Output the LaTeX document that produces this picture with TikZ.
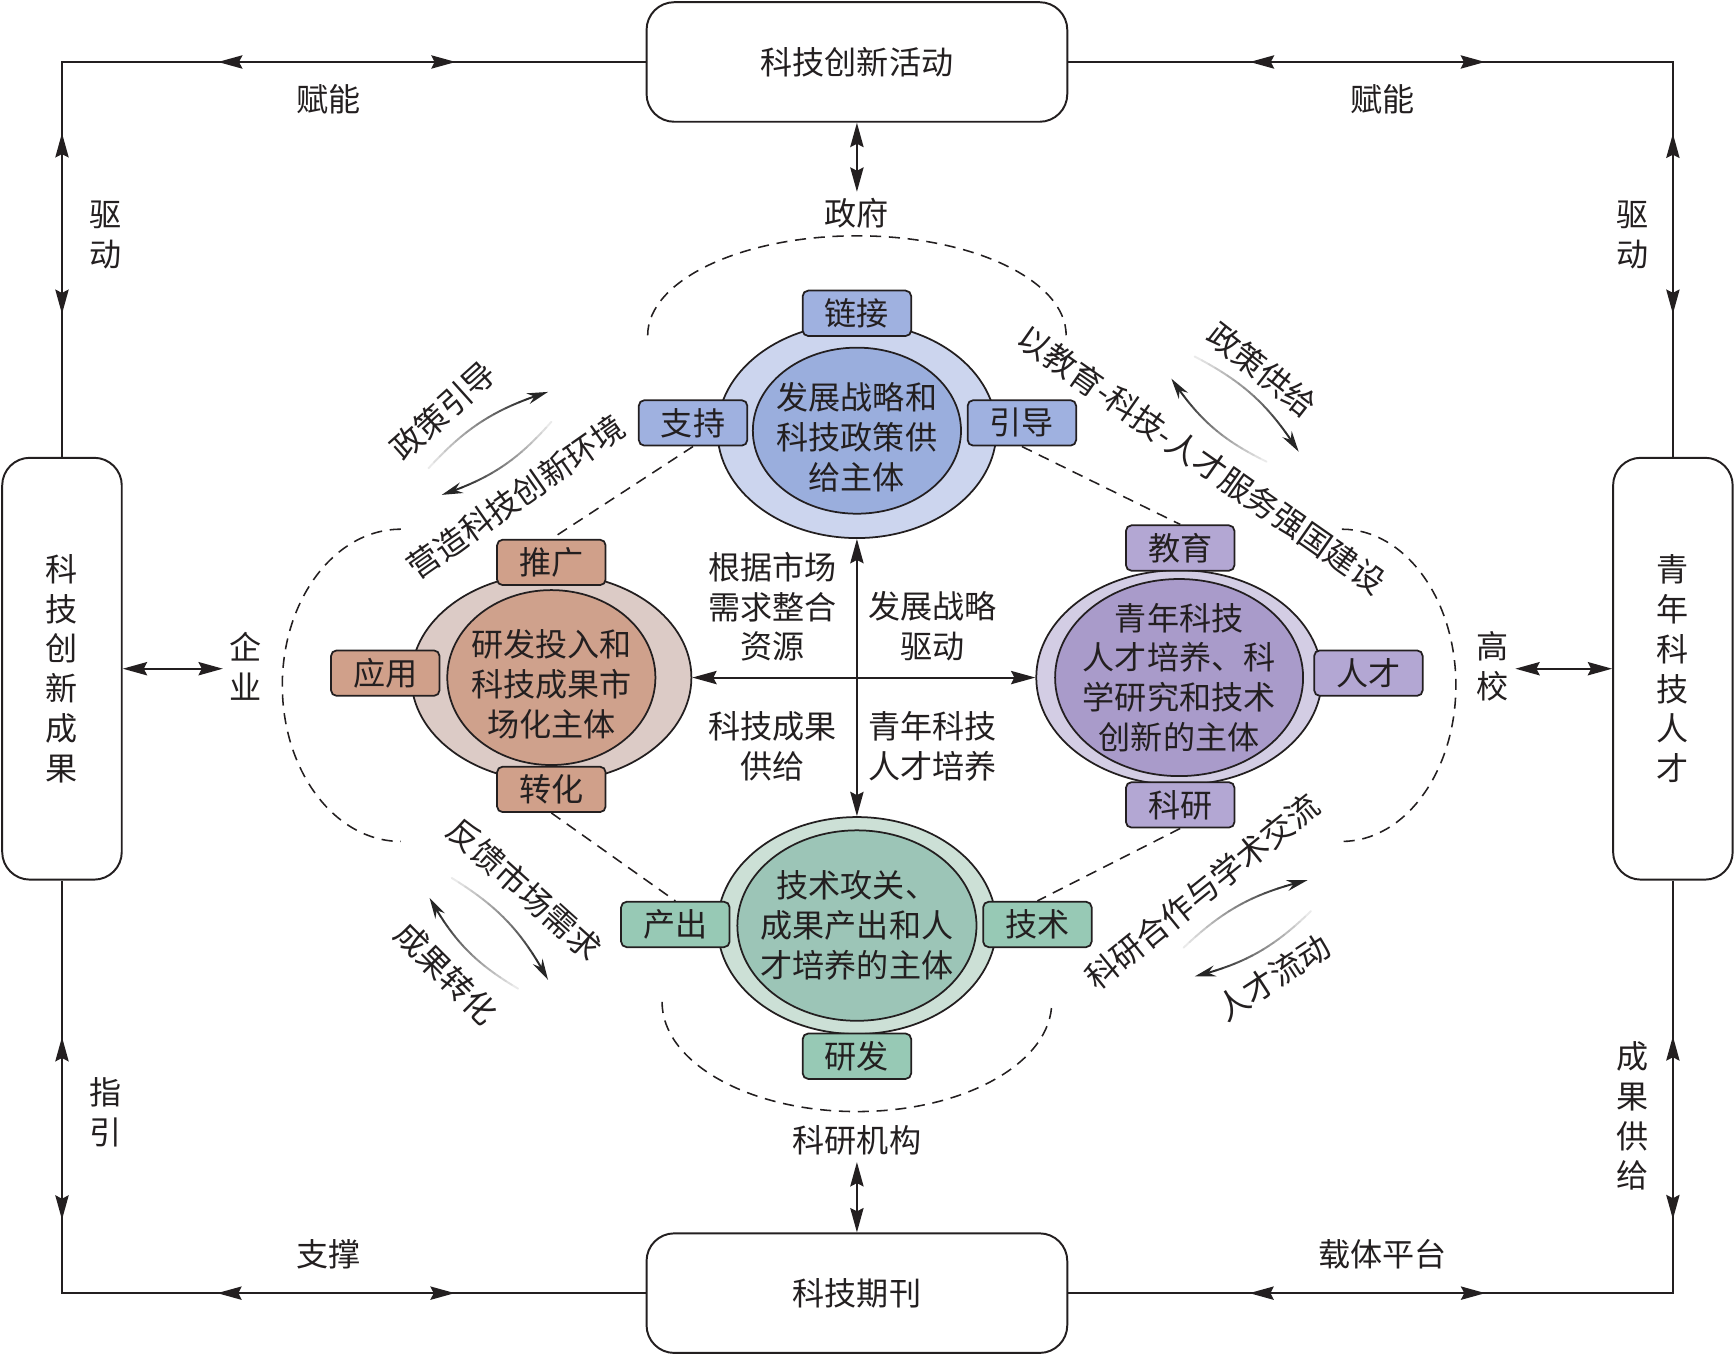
\documentclass[tikz,border=0pt]{standalone}
\usepackage{fontspec}
\setmainfont{Noto Sans CJK SC}
\usetikzlibrary{shapes.geometric,arrows.meta,decorations.markings}

\definecolor{ink}{HTML}{231F20}
\definecolor{govring}{HTML}{CCD5EE}
\definecolor{govcore}{HTML}{9AAEDD}
\definecolor{govtag}{HTML}{9FB1E0}
\definecolor{entring}{HTML}{DCCBC6}
\definecolor{entcore}{HTML}{CFA18C}
\definecolor{enttag}{HTML}{D0A08A}
\definecolor{uniring}{HTML}{D3CDE4}
\definecolor{unicore}{HTML}{A99BCA}
\definecolor{unitag}{HTML}{B3A7D3}
\definecolor{instring}{HTML}{CCE0D6}
\definecolor{instcore}{HTML}{9CC5B7}
\definecolor{insttag}{HTML}{97C9B5}

\tikzset{
  >={Stealth[length=4.4mm,width=2.4mm,inset=0.6mm]},
  box/.style={draw, line width=1pt, rounded corners=5mm, minimum width=76mm, minimum height=21.6mm},
  sidebox/.style={box, minimum width=21.6mm, minimum height=76.2mm, align=center},
  ring/.style={draw, ellipse, line width=0.9pt, inner sep=0pt},
  core text/.style={align=center},
  tagbox/.style={draw, line width=0.9pt, rounded corners=1mm, minimum width=19.6mm, minimum height=8.2mm, inner sep=0pt},
  zone/.style={line width=0.8pt, dash pattern=on 2mm off 1.4mm},
  duplex/.style={<->, line width=1pt},
  feed/.style n args={4}{line width=1pt, postaction={decorate}, decoration={markings,
      mark=at position #1 with {\arrow{<}}, mark=at position #2 with {\arrow{>}},
      mark=at position #3 with {\arrow{<}}, mark=at position #4 with {\arrow{>}}}}
}

\newcommand\gradarrow[2]{%
  \foreach \k in {1,...,18}{%
    \pgfmathsetmacro\fA{0.9*(\k-1)/18}%
    \pgfmathsetmacro\fB{0.9*\k/18}%
    \pgfmathsetmacro\tone{4+80*\k/18}%
    \path (#1) to[bend left=15] coordinate[pos=\fA] (fa) coordinate[pos=\fB] (fb) (#2);
    \draw[black!\tone, line width=1pt, line cap=round] (fa) -- (fb);
  }%
  \path (#1) to[bend left=15] coordinate[pos=0.9] (fc) (#2);
  \draw[-{Stealth[length=3.8mm,width=2mm]}, black!85, line width=1pt] (fc) -- (#2);
}

\begin{document}
\begin{tikzpicture}[x=0.2mm, y=0.2mm, color=ink, font=\fontsize{16.5}{20.5}\selectfont]
  \useasboundingbox (-774,-611) rectangle (794,612);

  \node[box] (act) at (0,556) {科技创新活动};
  \node[box] (jour) at (0,-556) {科技期刊};
  \node[sidebox] (res) at (-718,8) {科\\技\\创\\新\\成\\果};
  \node[sidebox] (tal) at (737,8) {青\\年\\科\\技\\人\\才};

  \draw[feed={0.219}{0.437}{0.694}{0.854}] (act.west) -| (res.north);
  \draw[feed={0.206}{0.417}{0.701}{0.857}] (act.east) -| (tal.north);
  \draw[feed={0.216}{0.43}{0.684}{0.843}] (jour.west) -| (res.south);
  \draw[feed={0.202}{0.41}{0.691}{0.847}] (jour.east) -| (tal.south);

  \node (fuL) at (-477,522) {赋能};
  \node (fuR) at (475,522) {赋能};
  \node[align=center] (quL) at (-679,400) {驱\\动};
  \node[align=center] (quR) at (701,400) {驱\\动};
  \node[align=center] (zhi) at (-679,-393) {指\\引};
  \node[align=center] (cgg) at (701,-396) {成\\果\\供\\给};
  \node (zch) at (-477,-521) {支撑};
  \node (zti) at (475,-521) {载体平台};

  \draw[zone] (-189,309) arc[start angle=180, end angle=0, x radius=189, y radius=90];
  \draw[zone] (-412,134) arc[start angle=90, end angle=270, x radius=107, y radius=141];
  \draw[zone] (438,134) arc[start angle=90, end angle=-90, x radius=103, y radius=141];
  \draw[zone] (-176,-293) arc[start angle=180, end angle=360, x radius=176, y radius=99];

  \node[ring, fill=govring, minimum width=50.4mm, minimum height=38.8mm] (gov) at (0,223) {};
  \node[ring, fill=govcore, minimum width=37.6mm, minimum height=30mm] (govc) at (gov) {};
  \node[core text, yshift=-1.2mm] (govt) at (gov) {发展战略和\\科技政策供\\给主体};

  \node[ring, fill=entring, minimum width=50.6mm, minimum height=37.6mm] (ent) at (-276,0) {};
  \node[ring, fill=entcore, minimum width=37.6mm, minimum height=31.6mm] (entc) at (ent) {};
  \node[core text, yshift=-1.2mm] (entt) at (ent) {研发投入和\\科技成果市\\场化主体};

  \node[ring, fill=uniring, minimum width=51.6mm, minimum height=38.8mm] (uni) at (291,0) {};
  \node[ring, fill=unicore, minimum width=44.8mm, minimum height=35.6mm] (unic) at (uni) {};
  \node[core text] (unit) at (uni) {青年科技\\人才培养、科\\学研究和技术\\创新的主体};

  \node[ring, fill=instring, minimum width=50.4mm, minimum height=39.2mm] (inst) at (0,-224) {};
  \node[ring, fill=instcore, minimum width=43.2mm, minimum height=34.4mm] (instc) at (inst) {};
  \node[core text] (instt) at (inst) {技术攻关、\\成果产出和人\\才培养的主体};

  \foreach \nm/\x/\y/\c/\t in {link/0/329/govtag/链接, sup/-148/230/govtag/支持, gui/149/230/govtag/引导,
      pro/-276/104/enttag/推广, app/-426/4/enttag/应用, cvt/-276/-101/enttag/转化,
      edu/292/117/unitag/教育, tln/462/4/unitag/人才, sci/292/-115/unitag/科研,
      outp/-164/-223/insttag/产出, tech/163/-223/insttag/技术, rnd/0/-342/insttag/研发}
    \node[tagbox, fill=\c] (\nm) at (\x,\y) {\t};

  \draw[zone] (sup.south) -- (pro.north);
  \draw[zone] (gui.south) -- (edu.north);
  \draw[zone] (cvt.south) -- (outp.north);
  \draw[zone] (sci.south) -- (tech.north);

  \draw[duplex] (ent.east) -- (uni.west);
  \draw[duplex] (gov.south) -- (inst.north);

  \node (govl) at (0,419) {政府};
  \node (instl) at (0,-418) {科研机构};
  \node[align=center] (entl) at (-552,10) {企\\业};
  \node[align=center] (unil) at (574,10) {高\\校};
  \draw[duplex] (act.south) -- (govl.north);
  \draw[duplex] (instl.south) -- (jour.north);
  \draw[duplex] (res.east) -- (res.east -| entl.west);
  \draw[duplex] (tal.west -| unil.east) -- (tal.west);

  \node[align=center] (mkt) at (-76,64) {根据市场\\需求整合\\资源};
  \node[align=center] (drv) at (68,46) {发展战略\\驱动};
  \node[align=center] (ach) at (-76,-62) {科技成果\\供给};
  \node[align=center] (cul) at (68,-62) {青年科技\\人才培养};

  \node[rotate=42] (plg) at (-374,241) {政策引导};
  \node[rotate=35] (env) at (-308,163) {营造科技创新环境};
  \node[rotate=-35] (edus) at (311,197) {以教育-科技-人才服务强国建设};
  \node[rotate=-38] (pls) at (366,278) {政策供给};
  \node[rotate=-42] (fbk) at (-300,-191) {反馈市场需求};
  \node[rotate=-45] (cnv) at (-371,-267) {成果转化};
  \node[rotate=39] (coop) at (312,-193) {科研合作与学术交流};
  \node[rotate=33] (flow) at (376,-271) {人才流动};

  \coordinate (a1t) at (-387,189); \coordinate (a1h) at (-279,258);
  \coordinate (a2t) at (-276,231); \coordinate (a2h) at (-375,165);
  \coordinate (b1t) at (370,195);  \coordinate (b1h) at (284,270);
  \coordinate (b2t) at (305,290);  \coordinate (b2h) at (399,204);
  \coordinate (c1t) at (-306,-281); \coordinate (c1h) at (-386,-199);
  \coordinate (c2t) at (-366,-181); \coordinate (c2h) at (-279,-273);
  \coordinate (d1t) at (295,-244); \coordinate (d1h) at (407,-183);
  \coordinate (d2t) at (410,-211); \coordinate (d2h) at (305,-270);
  \gradarrow{a1t}{a1h} \gradarrow{a2t}{a2h}
  \gradarrow{b1t}{b1h} \gradarrow{b2t}{b2h}
  \gradarrow{c1t}{c1h} \gradarrow{c2t}{c2h}
  \gradarrow{d1t}{d1h} \gradarrow{d2t}{d2h}
\end{tikzpicture}
\end{document}
